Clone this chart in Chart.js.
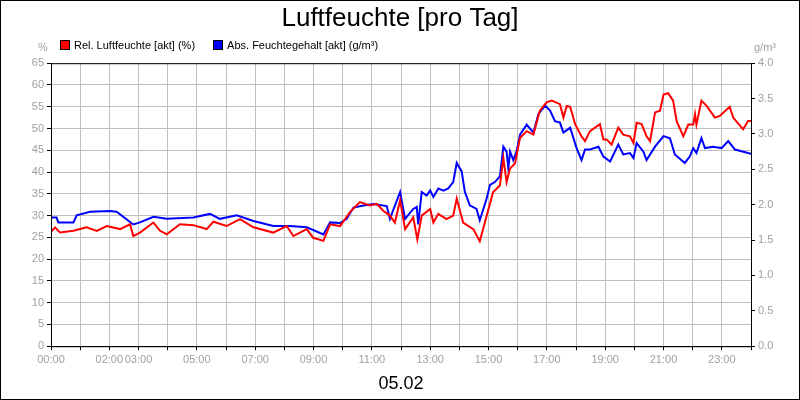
<!DOCTYPE html>
<html>
<head>
<meta charset="utf-8">
<script src="https://cdn.jsdelivr.net/npm/chart.js@4/dist/chart.umd.min.js"></script>
<style>
  body { margin: 0; background: #fff; }
  #wrap { position: relative; width: 798px; height: 398px; border: 1px solid #000; }
  #legend { position: absolute; left: 59px; top: 38px; font: 11px Arial, "Liberation Sans", sans-serif; color: #000; }
  #legend span { margin-right: 18px; }
  #legend i { display: inline-block; width: 8px; height: 8px; border: 1px solid #000; margin-right: 4px; vertical-align: -1px; }
</style>
</head>
<body>
<div id="wrap">
  <canvas id="humidityChart" width="798" height="398"></canvas>
  <div id="legend"></div>
</div>
<script>
const hourLabels = { 0: "00:00", 2: "02:00", 3: "03:00", 5: "05:00", 7: "07:00", 9: "09:00",
  11: "11:00", 13: "13:00", 15: "15:00", 17: "17:00", 19: "19:00", 21: "21:00", 23: "23:00" };

// relative humidity (%), time in hours
const relTimes = [0, 0.14, 0.31, 0.77, 1.22, 1.57, 1.91, 2.37, 2.71, 2.82, 3.05, 3.51, 3.74, 3.97, 4.42, 4.88,
  5.34, 5.57, 6.02, 6.48, 6.94, 7.62, 8.08, 8.31, 8.77, 8.99, 9.34, 9.57, 9.91, 10.25, 10.59, 10.94, 11.17, 11.39,
  11.62, 11.79, 11.97, 12.14, 12.42, 12.56, 12.71, 13.0, 13.11, 13.28, 13.56, 13.79, 13.91, 14.13, 14.48, 14.7,
  14.94, 15.16, 15.39, 15.51, 15.62, 15.74, 15.91, 16.08, 16.31, 16.54, 16.76, 16.99, 17.17, 17.45, 17.57, 17.68,
  17.8, 17.97, 18.19, 18.31, 18.48, 18.82, 18.94, 19.05, 19.22, 19.45, 19.62, 19.85, 19.97, 20.08, 20.25, 20.42,
  20.54, 20.71, 20.88, 21.0, 21.16, 21.33, 21.45, 21.68, 21.85, 22.02, 22.08, 22.13, 22.3, 22.48, 22.76, 22.93,
  23.27, 23.39, 23.73, 23.9, 24];
const relValues = [26.3, 27.3, 26.1, 26.5, 27.3, 26.5, 27.6, 26.9, 28.0, 25.3, 26.1, 28.4, 26.5, 25.7, 28.0, 27.8,
  26.9, 28.6, 27.6, 29.2, 27.3, 26.1, 27.6, 25.3, 26.9, 24.9, 24.2, 28.0, 27.6, 30.8, 33.1, 32.3, 32.7, 31.1,
  30.0, 28.4, 33.5, 26.9, 29.6, 24.5, 30.0, 31.5, 28.4, 30.4, 29.2, 30.0, 33.9, 28.4, 26.9, 24.1,
  30.0, 35.4, 36.9, 43.2, 37.7, 40.8, 42.0, 47.8, 49.4, 48.6, 54.1, 56.0, 56.4, 55.6, 52.5, 55.2,
  55.0, 51.0, 48.2, 47.1, 49.4, 51.0, 47.5, 47.5, 46.3, 50.2, 48.6, 48.2, 46.7, 51.3, 51.0, 48.2,
  47.1, 53.7, 54.1, 57.8, 58.1, 56.4, 51.7, 48.2, 50.9, 50.9, 53.3, 50.9, 56.4, 55.2, 52.5, 52.9,
  55.0, 52.5, 49.8, 51.7, 51.7];

// absolute moisture content (g/m³)
const absTimes = [0.02, 0.19, 0.25, 0.77, 0.88, 1.34, 2.02, 2.25, 2.82, 3.05, 3.51, 3.97, 4.88, 5.45, 5.79, 6.37,
  6.94, 7.62, 8.19, 8.77, 9.34, 9.57, 9.91, 10.14, 10.37, 10.71, 11.05, 11.51,
  11.62, 11.97, 12.14, 12.42, 12.54, 12.59, 12.71, 12.88, 13.0, 13.11, 13.28, 13.45, 13.62, 13.79, 13.91, 14.08,
  14.19, 14.36, 14.59, 14.7, 14.94, 15.05, 15.22, 15.39, 15.51, 15.62, 15.68, 15.74, 15.85, 15.96, 16.08, 16.31,
  16.54, 16.71, 16.94, 17.11, 17.28, 17.45, 17.57, 17.8, 18.02, 18.19, 18.31, 18.48, 18.77, 18.94, 19.17, 19.45,
  19.62, 19.85, 19.97, 20.08, 20.31, 20.42, 20.71, 21.0, 21.22, 21.39, 21.73, 21.9, 22.02, 22.13, 22.3, 22.42,
  22.7, 22.99, 23.22, 23.45, 23.9, 24];
const absValues = [1.82, 1.82, 1.75, 1.75, 1.85, 1.90, 1.91, 1.90, 1.72, 1.75, 1.83, 1.80, 1.82, 1.87, 1.80, 1.85,
  1.77, 1.70, 1.70, 1.68, 1.58, 1.75, 1.74, 1.80, 1.96, 1.99, 2.01, 1.98,
  1.80, 2.18, 1.80, 1.94, 1.97, 1.72, 2.18, 2.13, 2.20, 2.11, 2.23, 2.20, 2.23, 2.32, 2.59, 2.47,
  2.18, 1.99, 1.94, 1.78, 2.09, 2.28, 2.32, 2.40, 2.82, 2.75, 2.51, 2.75, 2.63, 2.75, 2.99, 3.13,
  3.02, 3.28, 3.40, 3.33, 3.18, 3.16, 3.02, 3.09, 2.80, 2.63, 2.78, 2.78, 2.82, 2.68, 2.61, 2.85,
  2.71, 2.73, 2.66, 2.87, 2.75, 2.63, 2.82, 2.97, 2.94, 2.71, 2.59, 2.68, 2.80, 2.73, 2.94, 2.80,
  2.82, 2.80, 2.90, 2.78, 2.73, 2.72];

const toPoints = (ts, vs) => ts.map((t, i) => ({ x: t, y: vs[i] }));

const frame = {
  id: "frame",
  afterDatasetsDraw(chart) {
    const { ctx, chartArea: a } = chart;
    ctx.save();
    ctx.strokeStyle = "#000";
    ctx.lineWidth = 1;
    ctx.strokeRect(a.left + 0.5, a.top + 0.5, a.right - a.left, a.bottom - a.top);
    ctx.fillStyle = "#a0a0a0";
    ctx.font = "11px Arial, 'Liberation Sans'";
    ctx.textAlign = "center";
    ctx.fillText("%", a.left - 8, a.top - 12);
    ctx.fillText("g/m³", a.right + 14, a.top - 12);
    ctx.restore();
  },
};

const chart = new Chart(document.getElementById("humidityChart"), {
  type: "line",
  data: {
    datasets: [
      { label: "Rel. Luftfeuchte [akt] (%)", data: toPoints(relTimes, relValues), yAxisID: "y",
        borderColor: "#ff0000", backgroundColor: "#ff0000", borderWidth: 2, pointRadius: 0, tension: 0 },
      { label: "Abs. Feuchtegehalt [akt] (g/m³)", data: toPoints(absTimes, absValues), yAxisID: "y1",
        borderColor: "#0000ff", backgroundColor: "#0000ff", borderWidth: 2, pointRadius: 0, tension: 0 },
    ],
  },
  options: {
    responsive: false,
    animation: false,
    layout: { padding: { left: 0, right: 0, top: 0, bottom: 4 } },
    font: { family: "Arial, 'Liberation Sans'" },
    scales: {
      x: {
        type: "linear",
        min: 0,
        max: 24,
        ticks: {
          stepSize: 1,
          autoSkip: false,
          maxRotation: 0,
          color: "#a0a0a0",
          font: { size: 11 },
          callback: (v) => hourLabels[v] || "",
        },
        grid: { color: "#c0c0c0", tickColor: "#000", tickLength: 4 },
        border: { color: "#000" },
        title: { display: true, text: "05.02", color: "#000", font: { size: 18 }, padding: { top: 4, bottom: 0 } },
      },
      y: {
        position: "left",
        min: 0,
        max: 65,
        ticks: { stepSize: 5, color: "#a0a0a0", font: { size: 11 } },
        grid: { color: "#c0c0c0", tickColor: "#000", tickLength: 4 },
        border: { color: "#000" },
        afterFit: (s) => { s.width = 50; },
      },
      y1: {
        position: "right",
        min: 0,
        max: 4,
        ticks: { stepSize: 0.5, color: "#a0a0a0", font: { size: 11 }, callback: (v) => v.toFixed(1) },
        grid: { drawOnChartArea: false, tickColor: "#000", tickLength: 4 },
        border: { color: "#000" },
        afterFit: (s) => { s.width = 48; },
      },
    },
    plugins: {
      title: {
        display: true,
        text: "Luftfeuchte [pro Tag]",
        color: "#000",
        font: { size: 26, weight: "normal" },
        padding: { top: 2, bottom: 29 },
      },
      legend: { display: false },
      tooltip: { enabled: false },
    },
  },
  plugins: [frame],
});

document.getElementById("legend").innerHTML = chart.data.datasets
  .map((d) => `<span><i style="background:${d.borderColor}"></i>${d.label}</span>`)
  .join("");
</script>
</body>
</html>
